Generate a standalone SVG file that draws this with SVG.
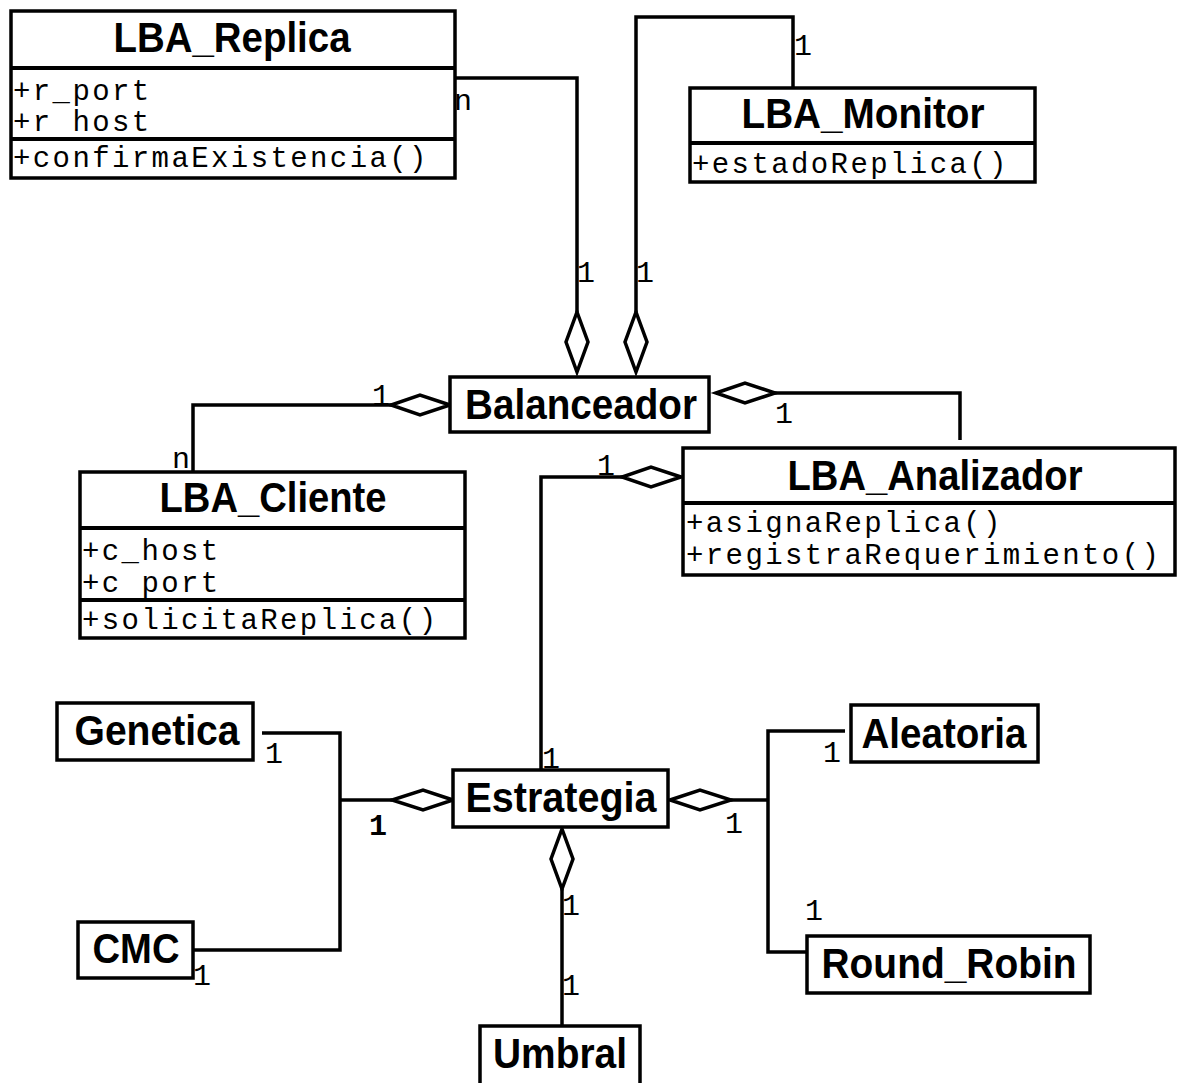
<svg xmlns="http://www.w3.org/2000/svg" width="1188" height="1083" viewBox="0 0 1188 1083">
  <style>
    .box { fill: #fff; stroke: #000; stroke-width: 3.5; }
    .div { stroke: #000; stroke-width: 4; }
    .title { font-family: "Liberation Sans", Arial, sans-serif; font-weight: bold; font-size: 42px; text-anchor: middle; fill: #000; }
    .mono { font-family: "Liberation Mono", "Courier New", monospace; font-size: 29px; letter-spacing: 2.4px; fill: #000; }
    .mult { font-family: "Liberation Mono", "Courier New", monospace; font-size: 30px; fill: #000; }
    .bold { font-weight: bold; }
    .wire { fill: none; stroke: #000; stroke-width: 3.5; stroke-linejoin: miter; }
    .dia { fill: #fff; stroke: #000; stroke-width: 3.5; }
  </style>
  <rect width="1188" height="1083" fill="#fff"/>

  <!-- associations and aggregation diamonds -->
  <g id="connectors">
    <!-- LBA_Replica n : 1 Balanceador -->
    <polyline class="wire" points="455,78 577,78 577,312"/>
    <polygon class="dia" points="577,312 588,342 577,372 566,342"/>
    <text class="mult" x="454" y="110">n</text>
    <text class="mult" x="577" y="282">1</text>

    <!-- LBA_Monitor 1 : 1 Balanceador -->
    <polyline class="wire" points="793,88 793,17 636,17 636,312"/>
    <polygon class="dia" points="636,312 647,342 636,372 625,342"/>
    <text class="mult" x="794" y="55">1</text>
    <text class="mult" x="636" y="282">1</text>

    <!-- LBA_Cliente n : 1 Balanceador -->
    <polyline class="wire" points="193,472 193,405 391,405"/>
    <polygon class="dia" points="450,405 420,395 391,405 420,415"/>
    <text class="mult" x="372" y="405">1</text>
    <text class="mult" x="172" y="468">n</text>

    <!-- LBA_Analizador 1 : 1 Balanceador -->
    <polyline class="wire" points="775,393 960,393 960,440"/>
    <polygon class="dia" points="716,393 745,383 775,393 745,403"/>
    <text class="mult" x="775" y="423">1</text>
    <text class="mult" x="942" y="470">1</text>

    <!-- Estrategia 1 : 1 LBA_Analizador -->
    <polyline class="wire" points="541,770 541,477 622,477"/>
    <polygon class="dia" points="681,477 651,467 622,477 651,487"/>
    <text class="mult" x="597" y="475">1</text>
    <text class="mult" x="542" y="768">1</text>

    <!-- Genetica / CMC : Estrategia -->
    <polyline class="wire" points="262,733 340,733 340,950 193,950"/>
    <polyline class="wire" points="340,800 392,800"/>
    <polygon class="dia" points="453,800 423,790 392,800 423,810"/>
    <text class="mult" x="265" y="763">1</text>
    <text class="mult" x="193" y="985">1</text>
    <text class="mult bold" x="369" y="835">1</text>

    <!-- Aleatoria / Round_Robin : Estrategia -->
    <polyline class="wire" points="845,731 768,731 768,952 807,952"/>
    <polyline class="wire" points="731,800 768,800"/>
    <polygon class="dia" points="670,800 700,790 731,800 700,810"/>
    <text class="mult" x="823" y="762">1</text>
    <text class="mult" x="725" y="833">1</text>
    <text class="mult" x="805" y="920">1</text>

    <!-- Umbral 1 : 1 Estrategia -->
    <polyline class="wire" points="562,889 562,1026"/>
    <polygon class="dia" points="562,829 573,859 562,889 551,859"/>
    <text class="mult" x="562" y="915">1</text>
    <text class="mult" x="562" y="995">1</text>
  </g>

  <g id="lba-replica">
    <rect class="box" x="11" y="11" width="444" height="167"/>
    <text class="title" x="232" y="52" textLength="237" lengthAdjust="spacingAndGlyphs">LBA_Replica</text>
    <line class="div" x1="11" y1="68" x2="455" y2="68"/>
    <text class="mono" x="13" y="100">+r_port</text>
    <text class="mono" x="13" y="131">+r host</text>
    <line class="div" x1="11" y1="139" x2="455" y2="139"/>
    <text class="mono" x="13" y="167">+confirmaExistencia()</text>
  </g>

  <g id="lba-monitor">
    <rect class="box" x="690" y="88" width="345" height="94"/>
    <text class="title" x="863" y="128" textLength="243" lengthAdjust="spacingAndGlyphs">LBA_Monitor</text>
    <line class="div" x1="690" y1="143" x2="1035" y2="143"/>
    <text class="mono" x="692" y="173">+estadoReplica()</text>
  </g>

  <g id="balanceador">
    <rect class="box" x="450" y="377" width="259" height="55"/>
    <text class="title" x="581" y="419" textLength="232" lengthAdjust="spacingAndGlyphs">Balanceador</text>
  </g>

  <g id="lba-analizador">
    <rect class="box" x="683" y="448" width="492" height="127"/>
    <text class="title" x="935" y="490" textLength="295" lengthAdjust="spacingAndGlyphs">LBA_Analizador</text>
    <line class="div" x1="683" y1="503" x2="1175" y2="503"/>
    <text class="mono" x="686" y="532">+asignaReplica()</text>
    <text class="mono" x="686" y="564">+registraRequerimiento()</text>
  </g>

  <g id="lba-cliente">
    <rect class="box" x="80" y="472" width="385" height="166"/>
    <text class="title" x="273" y="512" textLength="227" lengthAdjust="spacingAndGlyphs">LBA_Cliente</text>
    <line class="div" x1="80" y1="528" x2="465" y2="528"/>
    <text class="mono" x="82" y="560">+c_host</text>
    <text class="mono" x="82" y="592">+c port</text>
    <line class="div" x1="80" y1="600" x2="465" y2="600"/>
    <text class="mono" x="82" y="629">+solicitaReplica()</text>
  </g>

  <g id="genetica">
    <rect class="box" x="57" y="703" width="196" height="57"/>
    <text class="title" x="157" y="745" textLength="165" lengthAdjust="spacingAndGlyphs">Genetica</text>
  </g>

  <g id="cmc">
    <rect class="box" x="78" y="922" width="115" height="56"/>
    <text class="title" x="136" y="963" textLength="87" lengthAdjust="spacingAndGlyphs">CMC</text>
  </g>

  <g id="estrategia">
    <rect class="box" x="453" y="770" width="215" height="57"/>
    <text class="title" x="561" y="812" textLength="191" lengthAdjust="spacingAndGlyphs">Estrategia</text>
  </g>

  <g id="aleatoria">
    <rect class="box" x="851" y="705" width="187" height="57"/>
    <text class="title" x="944" y="748" textLength="165" lengthAdjust="spacingAndGlyphs">Aleatoria</text>
  </g>

  <g id="round-robin">
    <rect class="box" x="807" y="936" width="283" height="57"/>
    <text class="title" x="949" y="978" textLength="255" lengthAdjust="spacingAndGlyphs">Round_Robin</text>
  </g>

  <g id="umbral">
    <rect class="box" x="480" y="1026" width="160" height="60"/>
    <text class="title" x="560" y="1068" textLength="134" lengthAdjust="spacingAndGlyphs">Umbral</text>
  </g>
</svg>
